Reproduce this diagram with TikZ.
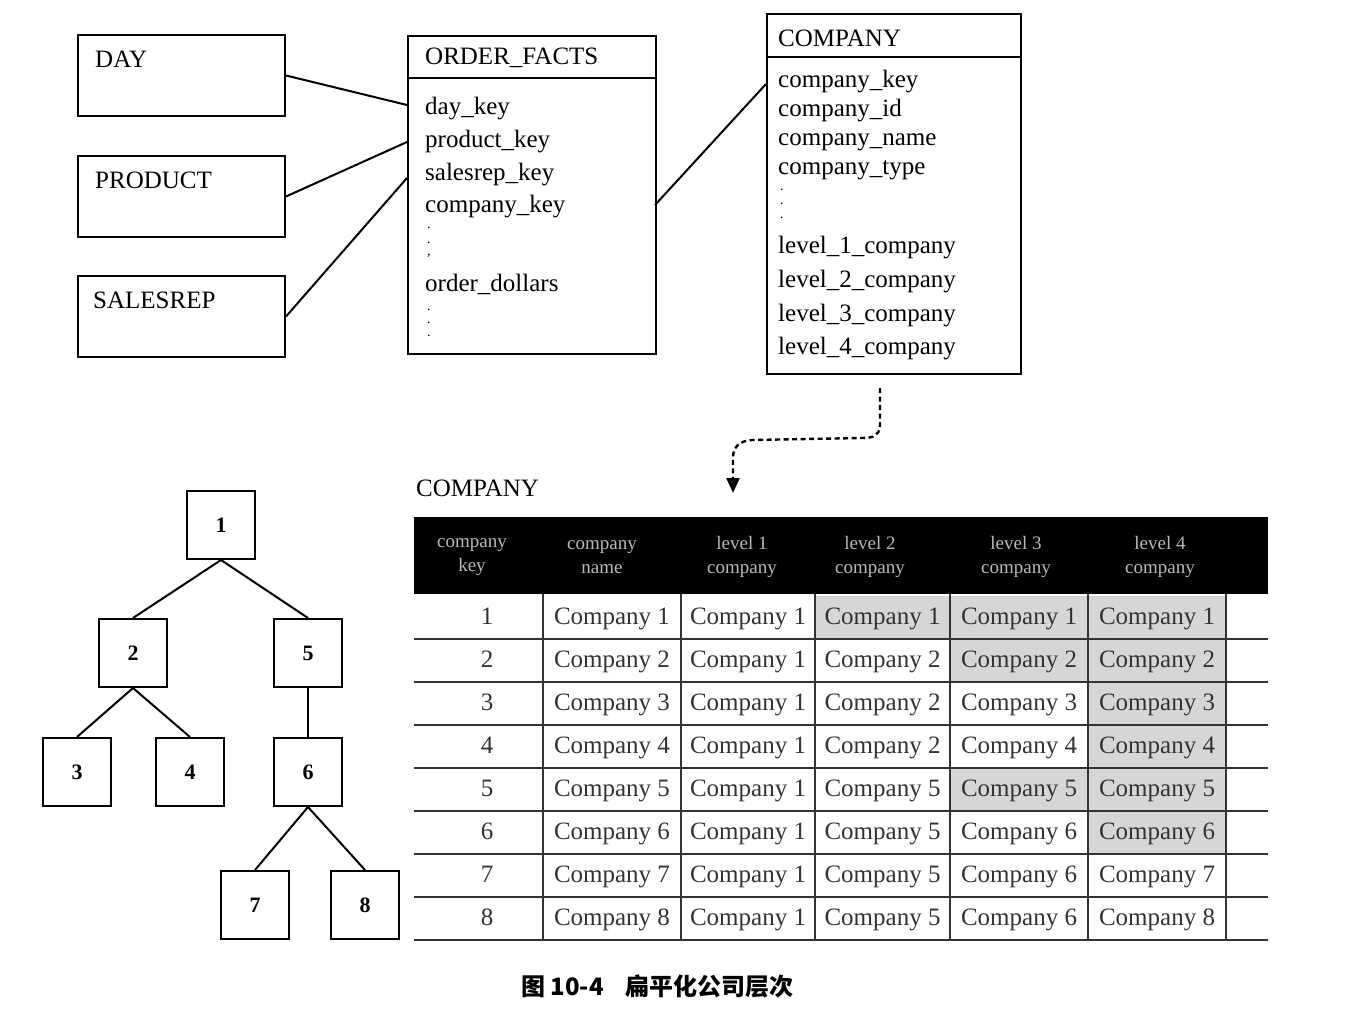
\documentclass[tikz,border=0pt]{standalone}
\usepackage{fontspec}
\setmainfont{Liberation Serif}
\newfontfamily\cjk{Noto Sans CJK SC}
\usetikzlibrary{arrows.meta}
\begin{document}
\begin{tikzpicture}[x=1pt,y=-1pt,
  ent/.style={draw, line width=2pt, anchor=north west, inner sep=0pt},
  fld/.style={anchor=west, inner sep=0pt, yshift=-4pt, text height=0.7em, text depth=0.22em, font=\fontsize{25}{25}\selectfont},
  dotf/.style={anchor=west, inner sep=0pt, font=\fontsize{14}{14}\selectfont},
  link/.style={line width=2pt},
  tn/.style={draw, line width=2pt, minimum size=68pt, inner sep=0pt, font=\bfseries\fontsize{22}{22}\selectfont},
  cellt/.style={inner sep=0pt, yshift=-5pt, text height=0.7em, text depth=0.22em, font=\fontsize{25}{25}\selectfont, text=black!80},
  hdt/.style={inner sep=0pt, align=center, font=\fontsize{19}{24}\selectfont, text=gray!55},
  grid/.style={line width=1.5pt, draw=black!80},
  shade/.style={fill=gray!32}
]
\useasboundingbox (0,0) rectangle (1354,1032);
\fill[white] (0,0) rectangle (1354,1032);

% ---------- dimension boxes ----------
\node[ent, minimum width=207pt, minimum height=81pt] (day) at (77,34) {};
\node[fld] (dayt) at (95,61) {DAY};
\node[ent, minimum width=207pt, minimum height=81pt] (prod) at (77,155) {};
\node[fld] (prodt) at (95,182) {PRODUCT};
\node[ent, minimum width=207pt, minimum height=81pt] (srep) at (77,275) {};
\node[fld] (srept) at (93,302) {SALESREP};

% ---------- ORDER_FACTS ----------
\node[ent, minimum width=248pt, minimum height=318pt] (of) at (407,35) {};
\draw[line width=2pt] (407,78) -- (655,78);
\node[fld] (oft) at (425,58) {ORDER\_FACTS};
\node[fld] (dk) at (425,108) {day\_key};
\node[fld] (pk) at (425,141) {product\_key};
\node[fld] (sk) at (425,174) {salesrep\_key};
\node[fld] (ck) at (425,206) {company\_key};
\node[dotf] (od1) at (427,228) {.};
\node[dotf] (od2) at (427,243) {.};
\node[dotf] (od3) at (427,256) {,};
\node[fld] (odl) at (425,285) {order\_dollars};
\node[dotf] (od4) at (427,310) {.};
\node[dotf] (od5) at (427,323) {.};
\node[dotf] (od6) at (427,336) {.};

% ---------- COMPANY entity ----------
\node[ent, minimum width=254pt, minimum height=360pt] (co) at (766,13) {};
\draw[line width=2pt] (766,57) -- (1020,57);
\node[fld] (cot) at (778,40) {COMPANY};
\node[fld] (cky) at (778,81) {company\_key};
\node[fld] (cid) at (778,110) {company\_id};
\node[fld] (cnm) at (778,139) {company\_name};
\node[fld] (cty) at (778,168) {company\_type};
\node[dotf] (cd1) at (780,190) {.};
\node[dotf] (cd2) at (780,204) {.};
\node[dotf] (cd3) at (780,218) {.};
\node[fld] (l1) at (778,247) {level\_1\_company};
\node[fld] (l2) at (778,281) {level\_2\_company};
\node[fld] (l3) at (778,315) {level\_3\_company};
\node[fld] (l4) at (778,348) {level\_4\_company};

% ---------- connectors ----------
\coordinate (dkw) at (407,105);
\coordinate (pkw) at (407,142);
\coordinate (skw) at (407,178);
\draw[link] (day.east) -- (dkw);
\draw[link] (prod.east) -- (pkw);
\draw[link] (srep.east) -- (skw);
\coordinate (cke) at (655,205);
\coordinate (ckyw) at (766,84);
\draw[link] (cke) -- (ckyw);

% ---------- dashed arrow ----------
\coordinate (ds) at (880,388);
\coordinate (de) at (733,493);
\draw[line width=2.4pt, dash pattern=on 5pt off 3.5pt, -{Triangle[width=13pt,length=15pt]}]
  (ds) -- (880,426) .. controls (879,436) and (873,438) .. (862,438)
  -- (752,440) .. controls (740,441) and (733,446) .. (733,458) -- (de);

% ---------- table ----------
\node[anchor=west, inner sep=0pt, font=\fontsize{25}{25}\selectfont] (tt) at (416,488) {COMPANY};
\fill[black] (414,517) rectangle (1268,594);
% shaded cells
\fill[shade] (815,596) rectangle (950,639);
\fill[shade] (950,596) rectangle (1088,639);
\fill[shade] (1088,596) rectangle (1226,639);
\fill[shade] (950,639) rectangle (1088,682);
\fill[shade] (1088,639) rectangle (1226,682);
\fill[shade] (1088,682) rectangle (1226,725);
\fill[shade] (1088,725) rectangle (1226,768);
\fill[shade] (950,768) rectangle (1088,811);
\fill[shade] (1088,768) rectangle (1226,811);
\fill[shade] (1088,811) rectangle (1226,854);
% header texts
\node[hdt] (h0) at (472,557) {company\\key};
\node[hdt] (h1) at (602,557) {company\\name};
\node[hdt] (h2) at (742,557) {level 1\\company};
\node[hdt] (h3) at (870,557) {level 2\\company};
\node[hdt] (h4) at (1016,557) {level 3\\company};
\node[hdt] (h5) at (1160,557) {level 4\\company};
% grid
\foreach \yy in {639,682,725,768,811,854,897} {
  \draw[grid] (414,\yy) -- (1268,\yy);
}
\draw[grid, line width=2pt] (414,940) -- (1268,940);
\foreach \xx in {543,681,815,950,1088,1226} {
  \draw[grid] (\xx,594) -- (\xx,940);
}
% rows
\foreach \r/\a/\b/\c/\d/\e in {1/1/1/1/1/1, 2/2/1/2/2/2, 3/3/1/2/3/3, 4/4/1/2/4/4,
                               5/5/1/5/5/5, 6/6/1/5/6/6, 7/7/1/5/6/7, 8/8/1/5/6/8} {
  \pgfmathsetmacro\yc{596+43*(\r-1)+21.5}
  \node[cellt] (k\r) at (487,\yc) {\r};
  \node[cellt] (n\r) at (612,\yc) {Company \a};
  \node[cellt] (a\r) at (748,\yc) {Company \b};
  \node[cellt] (b\r) at (882.5,\yc) {Company \c};
  \node[cellt] (c\r) at (1019,\yc) {Company \d};
  \node[cellt] (d\r) at (1157,\yc) {Company \e};
}

% ---------- tree ----------
\node[tn] (t1) at (221,525) {1};
\node[tn] (t2) at (133,653) {2};
\node[tn] (t5) at (308,653) {5};
\node[tn] (t3) at (77,772) {3};
\node[tn] (t4) at (190,772) {4};
\node[tn] (t6) at (308,772) {6};
\node[tn] (t7) at (255,905) {7};
\node[tn] (t8) at (365,905) {8};
\draw[link] (t1.south) -- (t2.north);
\draw[link] (t1.south) -- (t5.north);
\draw[link] (t2.south) -- (t3.north);
\draw[link] (t2.south) -- (t4.north);
\draw[link] (t5.south) -- (t6.north);
\draw[link] (t6.south) -- (t7.north);
\draw[link] (t6.south) -- (t8.north);

% ---------- caption ----------
\node[anchor=west, inner sep=0pt, font=\cjk\bfseries\fontsize{24}{24}\selectfont] (cap) at (521,986) {图 10-4\hspace{22pt}扁平化公司层次};
\end{tikzpicture}
\end{document}
